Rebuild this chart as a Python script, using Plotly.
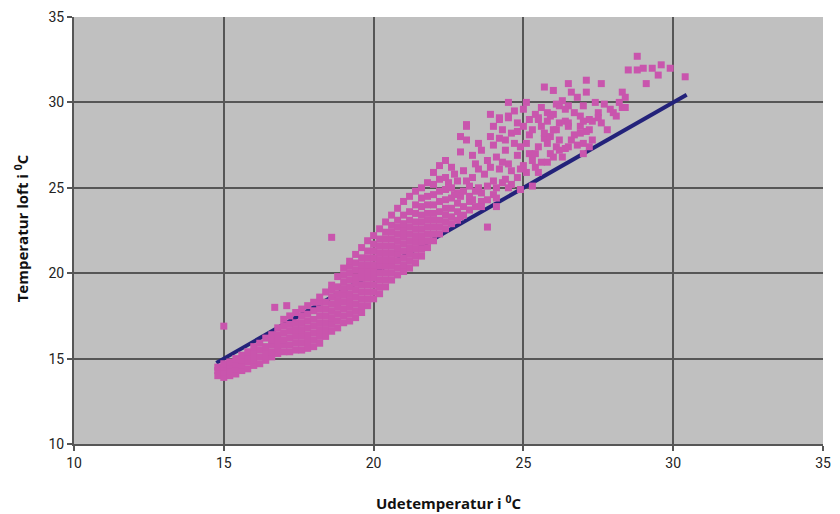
import plotly.graph_objects as go

# Outdoor temperature (x) vs. attic temperature (y), hourly readings in °C.
# Dense part of the cloud, listed column by column: one outdoor value and the
# attic readings recorded at it.
band_out = [14.8, 15.0, 15.2, 15.4, 15.6, 15.8, 16.0, 16.2, 16.4, 16.6, 16.7,
            16.8, 17.0, 17.1, 17.2, 17.4, 17.6, 17.8, 18.0, 18.2, 18.4, 18.6,
            18.8, 19.0, 19.2, 19.4, 19.6, 19.8, 20.0, 20.2, 20.4, 20.6, 20.8,
            21.0, 21.2, 21.4, 21.6, 21.8, 22.0, 22.2]
band_loft = [
    [14.0, 14.3, 14.5],
    [13.9, 14.2, 14.5, 14.7, 16.9],
    [14.0, 14.3, 14.6, 14.8],
    [14.1, 14.4, 14.7, 15.0],
    [14.3, 14.6, 14.9, 15.2],
    [14.4, 14.8, 15.1, 15.4],
    [14.6, 14.9, 15.3, 15.7],
    [14.7, 15.1, 15.5, 15.9],
    [14.9, 15.3, 15.7, 16.2],
    [15.1, 15.4, 15.8, 16.1, 16.4],
    [18.0],
    [15.3, 15.6, 16.0, 16.4, 16.8],
    [15.4, 15.8, 16.1, 16.5, 16.9, 17.3],
    [18.1],
    [15.4, 15.8, 16.2, 16.6, 17.0, 17.5],
    [15.5, 15.9, 16.3, 16.7, 17.1, 17.7],
    [15.5, 15.9, 16.3, 16.7, 17.1, 17.5, 17.9],
    [15.6, 16.0, 16.4, 16.8, 17.2, 17.6, 18.1],
    [15.7, 16.1, 16.5, 16.9, 17.3, 17.8, 18.3],
    [15.9, 16.3, 16.7, 17.1, 17.5, 17.9, 18.3, 18.6],
    [16.3, 16.7, 17.1, 17.5, 17.9, 18.3, 18.9],
    [16.6, 17.0, 17.4, 17.8, 18.2, 18.6, 19.0, 19.3, 22.1],
    [16.8, 17.2, 17.6, 18.0, 18.4, 18.8, 19.2, 19.8],
    [17.1, 17.5, 17.9, 18.3, 18.7, 19.1, 19.5, 19.9, 20.3],
    [17.2, 17.6, 18.0, 18.4, 18.8, 19.2, 19.6, 20.0, 20.4, 20.7],
    [17.4, 17.8, 18.2, 18.6, 19.0, 19.4, 19.8, 20.2, 20.6, 21.1],
    [17.7, 18.1, 18.5, 18.9, 19.3, 19.7, 20.1, 20.5, 20.9, 21.5],
    [18.1, 18.5, 18.9, 19.3, 19.7, 20.1, 20.5, 20.9, 21.3, 21.9],
    [18.5, 18.9, 19.3, 19.7, 20.1, 20.5, 20.9, 21.3, 21.7, 22.2],
    [18.8, 19.2, 19.6, 20.0, 20.4, 20.8, 21.2, 21.6, 22.0, 22.6],
    [19.2, 19.6, 20.0, 20.4, 20.8, 21.2, 21.6, 22.0, 22.4, 23.0],
    [19.6, 20.0, 20.4, 20.8, 21.2, 21.6, 22.0, 22.4, 22.8, 23.4],
    [19.9, 20.3, 20.7, 21.1, 21.5, 21.9, 22.3, 22.7, 23.1, 23.8],
    [20.1, 20.5, 20.9, 21.3, 21.7, 22.1, 22.5, 22.9, 23.4, 24.2],
    [20.3, 20.7, 21.1, 21.5, 21.9, 22.3, 22.7, 23.1, 23.6, 24.5],
    [20.6, 21.0, 21.4, 21.8, 22.2, 22.6, 23.0, 23.5, 24.0, 24.8],
    [21.0, 21.4, 21.8, 22.2, 22.6, 23.0, 23.4, 23.9, 24.4, 25.0],
    [21.5, 21.9, 22.3, 22.7, 23.1, 23.5, 24.0, 24.5, 25.3],
    [21.9, 22.3, 22.7, 23.1, 23.5, 24.0, 24.6, 25.2, 25.9],
    [22.3, 22.7, 23.1, 23.6, 24.2, 24.8, 25.5, 26.3],
]

# Warmer hours, where the readings spread out above the diagonal.
warm_out = [
    22.4, 22.4, 22.4, 22.4, 22.4, 22.4, 22.4, 22.4,
    22.6, 22.6, 22.6, 22.6, 22.6, 22.6,
    22.8, 22.8, 22.8, 22.8, 22.8,
    22.9, 22.9, 22.9, 23.0, 23.0, 23.0, 23.1, 23.1, 23.1,
    23.2, 23.2, 23.2, 23.3, 23.3, 23.4, 23.4, 23.4, 23.5,
    23.6, 23.6, 23.6, 23.8, 23.8, 23.8, 23.8, 23.9, 23.9,
    24.0, 24.0, 24.0, 24.1, 24.1, 24.1, 24.2, 24.2, 24.2,
    24.3, 24.3, 24.4, 24.4, 24.5, 24.5, 24.5, 24.5,
    24.6, 24.6, 24.8, 24.8, 24.8, 24.8, 24.9, 24.9,
    25.0, 25.0, 25.1, 25.1, 25.2, 25.2, 25.3, 25.3,
    25.4, 25.4, 25.5, 25.5, 25.5, 25.6, 25.6, 25.7, 25.7,
    25.8, 25.8, 25.8, 25.8, 25.9, 25.9, 26.0, 26.0, 26.0,
    26.1, 26.1, 26.2, 26.2, 26.2, 26.3, 26.4, 26.4,
    26.5, 26.5, 26.5, 26.5, 26.6, 26.6, 26.7, 26.9, 26.9, 26.9,
    27.0, 27.0, 27.1, 27.1, 27.2, 27.2, 27.2, 27.3, 27.5, 27.5,
    27.6, 27.6, 27.9, 28.0, 28.3, 28.3, 28.4, 28.4, 28.5,
    28.8, 28.8, 29.0, 29.1, 29.3, 29.5, 29.6, 29.9, 30.4,
    22.5, 22.7, 22.7, 23.0, 23.1, 23.3, 23.5, 23.5, 23.7, 23.9,
    24.0, 24.2, 24.3, 24.4, 24.6, 24.7, 24.7, 24.9, 25.0, 25.1,
    25.2, 25.3, 25.4, 25.6, 25.7, 25.9, 26.0, 26.1, 26.2, 26.3,
    26.4, 26.5, 26.7, 26.8, 26.8, 27.0, 27.1, 27.3, 27.4, 27.7,
    27.8, 28.1, 28.2, 27.0, 25.5, 24.5, 23.2, 23.6, 24.1, 22.9,
]
warm_loft = [
    22.6, 23.0, 23.4, 23.8, 24.3, 24.9, 25.6, 26.6,
    22.9, 23.3, 23.8, 24.4, 25.0, 26.2,
    23.1, 23.6, 24.1, 24.7, 25.4,
    24.5, 27.1, 28.0, 23.4, 23.9, 26.0, 27.8, 28.7, 28.6,
    23.7, 24.2, 25.1, 24.3, 25.6, 23.9, 24.8, 26.4, 26.1,
    24.2, 24.7, 27.2, 22.7, 24.3, 25.1, 26.6, 28.0, 29.3,
    24.6, 25.4, 27.5, 23.9, 25.0, 26.8, 26.1, 29.1, 29.0,
    25.3, 28.4, 25.5, 27.2, 29.2, 30.0, 26.4, 29.1,
    25.2, 28.2, 25.6, 26.9, 28.8, 28.3, 24.9, 27.4,
    26.3, 29.6, 25.9, 30.0, 27.0, 28.1, 25.1, 26.6,
    26.2, 29.3, 27.4, 29.0, 29.1, 26.5, 28.6, 30.9, 27.9,
    26.5, 27.6, 29.4, 28.9, 27.0, 29.2, 26.8, 28.4, 30.7,
    28.4, 27.4, 27.8, 29.8, 28.8, 26.8, 27.3, 28.9,
    31.1, 28.6, 29.8, 28.8, 27.8, 30.6, 28.1, 28.2, 29.2, 28.6,
    27.0, 27.6, 31.3, 30.6, 29.0, 28.4, 27.4, 27.8, 29.4, 29.1,
    31.1, 28.8, 29.6, 29.4, 30.6, 29.7, 30.3, 29.7, 31.9,
    32.7, 31.9, 32.0, 31.1, 32.0, 31.6, 32.2, 32.0, 31.5,
    25.3, 25.8, 24.6, 24.8, 25.4, 26.9, 25.0, 27.6, 25.8, 26.2,
    28.6, 27.9, 26.5, 27.8, 26.0, 27.6, 29.5, 26.1, 28.6, 27.6,
    29.0, 28.4, 27.0, 29.7, 28.2, 28.0, 29.3, 29.9, 27.2, 30.1,
    29.6, 27.4, 29.4, 30.3, 27.5, 29.8, 28.3, 28.9, 30.0, 29.9,
    28.4, 29.2, 30.0, 28.9, 25.9, 25.0, 24.5, 23.9, 24.4, 23.3,
]

# Reference diagonal: attic temperature equal to outdoor temperature.
diag_start, diag_end = 14.75, 30.45
diag_x = [diag_start, diag_end]
diag_y = [diag_start, diag_end]

x_ticks = [10, 15, 20, 25, 30, 35]
y_ticks = [10, 15, 20, 25, 30, 35]

x_title = "<b>Udetemperatur i <sup>0</sup>C</b>"
y_title = "<b>Temperatur loft i <sup>0</sup>C</b>"

# Flatten the column table into point lists.
cloud_x, cloud_y = [], []
for xv, ys in zip(band_out, band_loft):
    for yv in ys:
        cloud_x.append(xv)
        cloud_y.append(yv)
cloud_x += warm_out
cloud_y += warm_loft

PINK = "#c955ad"
NAVY = "#23227a"
GRID = "#565656"
TITLE_FONT = dict(family="Open Sans", size=15, color="#111111")

fig = go.Figure()
fig.add_trace(go.Scatter(
    x=diag_x, y=diag_y, mode="lines",
    line=dict(color=NAVY, width=4), hoverinfo="skip", showlegend=False,
))
fig.add_trace(go.Scatter(
    x=cloud_x, y=cloud_y, mode="markers",
    marker=dict(symbol="square", size=7, color=PINK, line=dict(width=0)),
    showlegend=False,
))

axis_common = dict(
    range=[10, 35], tickmode="array", automargin=False,
    showgrid=True, gridcolor=GRID, gridwidth=2,
    showline=True, linecolor=GRID, linewidth=2,
    ticks="outside", ticklen=5, tickwidth=2, tickcolor=GRID,
    zeroline=False,
    tickfont=dict(family="Roboto", size=14, color="#222222"),
)

fig.update_xaxes(**axis_common, tickvals=x_ticks,
                 ticktext=[str(v) for v in x_ticks])
fig.update_yaxes(**axis_common, tickvals=y_ticks,
                 ticktext=[str(v) for v in y_ticks])

# Axis titles placed just outside the plotting area.
fig.add_annotation(text=x_title, xref="paper", yref="paper",
                   x=0.5, y=-0.138, xanchor="center", yanchor="middle",
                   showarrow=False, font=TITLE_FONT)
fig.add_annotation(text=y_title, xref="paper", yref="paper",
                   x=-0.0708, y=0.505, xanchor="center", yanchor="middle",
                   textangle=-90, showarrow=False, font=TITLE_FONT)

fig.update_layout(
    width=840, height=514,
    margin=dict(l=74, r=17, t=17, b=70),
    paper_bgcolor="white", plot_bgcolor="#c0c0c0",
)

fig.write_html("out.html")
